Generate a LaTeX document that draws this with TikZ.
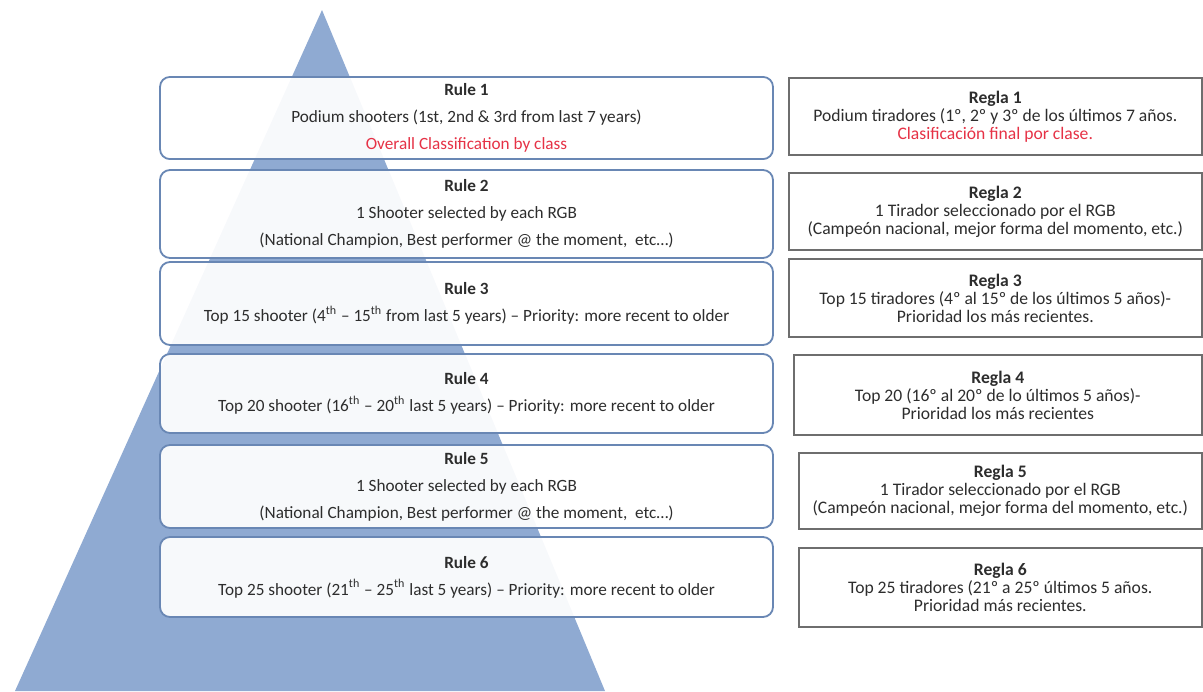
\documentclass[tikz,border=0pt]{standalone}
\usepackage{fontspec}
\setmainfont{Carlito}
\usetikzlibrary{positioning}
\definecolor{pyramid}{RGB}{143,170,210}
\definecolor{ruleborder}{RGB}{105,135,180}
\definecolor{reglaborder}{RGB}{110,110,110}
\definecolor{textgray}{RGB}{45,45,45}
\definecolor{redtext}{RGB}{230,50,70}

\begin{document}
\begin{tikzpicture}[x=0.5pt,y=-0.5pt]
\tikzstyle{rule}=[rectangle, rounded corners=5pt, draw=ruleborder, line width=0.9pt, fill=white, fill opacity=0.93, text opacity=1, minimum width=306.5pt, align=center, text=textgray, font=\fontsize{8.6}{13.5}\selectfont]
\tikzstyle{regla}=[rectangle, anchor=west, draw=reglaborder, line width=0.8pt, fill=white, align=center, text=textgray, font=\fontsize{8.8}{9}\selectfont]
\useasboundingbox (0,0) rectangle (1203,691);
% pyramid behind the rules
\fill[pyramid] (322,10) -- (605,691) -- (15,691) -- cycle;

	\node[rule, minimum height=40pt] (rule1) at (466.5,118) {\textbf{Rule 1}\\Podium shooters (1st, 2nd \& 3rd from last 7 years)\\\textcolor{redtext}{Overall Classification by class}};
	\node[rule, minimum height=44pt] (rule2) at (466.5,214) {\textbf{Rule 2}\\1 Shooter selected by each RGB\\(National Champion, Best performer @ the moment,\ \ etc…)};
	\node[rule, minimum height=41.5pt] (rule3) at (466.5,303.5) {\textbf{Rule 3}\\Top 15 shooter (4\textsuperscript{th} – 15\textsuperscript{th} from last 5 years) – Priority: more recent to older};
	\node[rule, minimum height=39.5pt] (rule4) at (466.5,393.5) {\textbf{Rule 4}\\Top 20 shooter (16\textsuperscript{th} – 20\textsuperscript{th} last 5 years) – Priority: more recent to older};
	\node[rule, minimum height=41.5pt] (rule5) at (466.5,486.5) {\textbf{Rule 5}\\1 Shooter selected by each RGB\\(National Champion, Best performer @ the moment,\ \ etc…)};
	\node[rule, minimum height=40pt] (rule6) at (466.5,577) {\textbf{Rule 6}\\Top 25 shooter (21\textsuperscript{th} – 25\textsuperscript{th} last 5 years) – Priority: more recent to older};

	\node[regla, minimum width=206.5pt, minimum height=38.5pt] (regla1) at (788,116.5) {\textbf{Regla 1}\\Podium tiradores (1º, 2º y 3º de los últimos 7 años.\\\textcolor{redtext}{Clasificación final por clase.}};
	\node[regla, minimum width=206.5pt, minimum height=38.5pt] (regla2) at (788,211.5) {\textbf{Regla 2}\\1 Tirador seleccionado por el RGB\\(Campeón nacional, mejor forma del momento, etc.)};
	\node[regla, minimum width=206.5pt, minimum height=39pt] (regla3) at (788,298) {\textbf{Regla 3}\\Top 15 tiradores (4º al 15º de los últimos 5 años)-\\Prioridad los más recientes.};
	\node[regla, minimum width=204pt, minimum height=40pt] (regla4) at (793,395) {\textbf{Regla 4}\\Top 20 (16º al 20º de lo últimos 5 años)-\\Prioridad los más recientes};
	\node[regla, minimum width=201.5pt, minimum height=38pt] (regla5) at (798,491) {\textbf{Regla 5}\\1 Tirador seleccionado por el RGB\\(Campeón nacional, mejor forma del momento, etc.)};
	\node[regla, minimum width=201.5pt, minimum height=39.5pt] (regla6) at (798,587.5) {\textbf{Regla 6}\\Top 25 tiradores (21º a 25º últimos 5 años.\\Prioridad más recientes.};

\end{tikzpicture}
\end{document}
